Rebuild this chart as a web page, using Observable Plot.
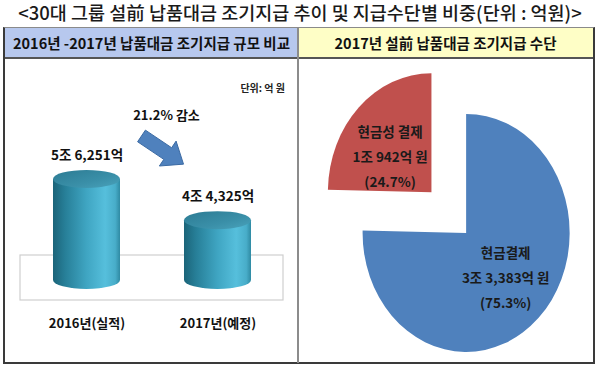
<!DOCTYPE html>
<html><head><meta charset="utf-8">
<script src="https://cdn.jsdelivr.net/npm/d3@7"></script>
<script src="https://cdn.jsdelivr.net/npm/@observablehq/plot@0.6"></script>
<style>
body{margin:0;background:#fff;font-family:"Noto Sans CJK KR","Noto Sans",sans-serif;color:#111}
#page{position:relative;width:600px;height:366px;overflow:hidden;background:#fff}
.abs{position:absolute}
#title{left:0;top:0;width:600px;text-align:center;font-size:18.5px;line-height:24px;font-weight:500;color:#1a1a1a;white-space:nowrap}
#box{left:3px;top:27px;width:592px;height:337px;box-sizing:border-box;border:2px solid #3a3a3a;border-top:1px solid #8a8a8a}
.hdr{top:28px;height:31px;line-height:30px;text-align:center;font-weight:bold;font-size:14.5px;box-sizing:border-box;border-bottom:2px solid #555;white-space:nowrap}
#h1{left:5px;width:293px;background:#B7C8EE}
#h2{left:298px;width:295px;background:#FEFEC6}
#div{left:297px;top:28px;width:2px;height:335px;background:#8c8c8c}
#unit{left:215px;top:80px;width:70px;text-align:right;font-size:10px;font-weight:bold;color:#222}
#left{left:3px;top:59px}
#right{left:298px;top:59px}
</style></head>
<body>
<div id="page">
  <div id="title" class="abs"></div>
  <div id="box" class="abs"></div>
  <div id="h1" class="abs hdr"></div>
  <div id="h2" class="abs hdr"></div>
  <div id="div" class="abs"></div>
  <div id="unit" class="abs"></div>
  <div id="left" class="abs"></div>
  <div id="right" class="abs"></div>
</div>
<script>
// ---- data ----
const titleText = "<30대 그룹 설前 납품대금 조기지급 추이 및 지급수단별 비중(단위 : 억원)>";
const leftHeader = "2016년 -2017년 납품대금 조기지급 규모 비교";
const rightHeader = "2017년 설前 납품대금 조기지급 수단";
const unitText = "단위: 억 원";
const years = ["2016년(실적)", "2017년(예정)"];
const amounts = [56251, 44325];           // 억 원
const changeLabel = "감소";
const payMethods = ["현금결제", "현금성 결제"];
const payAmounts = [33383, 10942];        // 억 원
const payColors = ["#4F81BD", "#C0504D"];

document.getElementById("title").textContent = titleText;
document.getElementById("h1").textContent = leftHeader;
document.getElementById("h2").textContent = rightHeader;
document.getElementById("unit").textContent = unitText;

const fmtC = d3.format(",");
const jo = v => `${Math.floor(v / 10000)}조 ${fmtC(v % 10000)}억`;
const FONT = '"Noto Sans CJK KR", "Noto Sans", sans-serif';

// ---- left: cylinders ----
const rows = years.map((year, i) => ({year, amount: amounts[i]}));
const yBase = 27000;
const cylinders = (index, {x, y}) => {
  const g = d3.create("svg:g");
  const defs = g.append("defs");
  const body = defs.append("linearGradient").attr("id", "cylBody").attr("x1", 0).attr("x2", 1).attr("y1", 0).attr("y2", 0);
  [[0, "#1b6479"], [0.18, "#277f98"], [0.5, "#3fa5c2"], [0.78, "#56bfdc"], [0.93, "#48adc9"], [1, "#2f8aa3"]]
    .forEach(([o, c]) => body.append("stop").attr("offset", o).attr("stop-color", c));
  const topG = defs.append("linearGradient").attr("id", "cylTop").attr("x1", 0).attr("x2", 1).attr("y1", 0).attr("y2", 1);
  [[0, "#2c7b93"], [0.6, "#3a8fa8"], [1, "#4aa3bc"]]
    .forEach(([o, c]) => topG.append("stop").attr("offset", o).attr("stop-color", c));
  const bw = typeof x.bandwidth === "function" ? x.bandwidth() : x.bandwidth;
  const rx = bw / 2, ry = 9;
  const y0 = y(yBase);
  const [r0, r1] = x.range();
  g.append("rect").attr("x", r0).attr("y", y0 - 25).attr("width", r1 - r0).attr("height", 45)
    .attr("fill", "#fff").attr("stroke", "#cfcfcf").attr("stroke-width", 1.2);
  for (const r of rows) {
    const cx = x(r.year) + rx, yt = y(r.amount);
    g.append("path")
      .attr("d", `M${cx - rx},${yt}L${cx - rx},${y0}A${rx},${ry} 0 0 0 ${cx + rx},${y0}L${cx + rx},${yt}Z`)
      .attr("fill", "url(#cylBody) #3fa5c2");
    g.append("ellipse").attr("cx", cx).attr("cy", yt).attr("rx", rx).attr("ry", ry).attr("fill", "url(#cylTop) #3890aa");
  }
  // arrow between the two cylinders
  const c0 = x(rows[0].year) + rx, c1 = x(rows[1].year) + rx;
  const A = [c0 + 55, y(rows[0].amount) - 43], B = [c1 - 34, y(rows[1].amount) - 56];
  const L = Math.hypot(B[0] - A[0], B[1] - A[1]);
  const u = [(B[0] - A[0]) / L, (B[1] - A[1]) / L], n = [-u[1], u[0]];
  const H = [B[0] - u[0] * 19, B[1] - u[1] * 19];
  const p = (P, k) => [P[0] + n[0] * k, P[1] + n[1] * k];
  const pts = [p(A, 7), p(H, 7), p(H, 15), B, p(H, -15), p(H, -7), p(A, -7)];
  g.append("polygon").attr("points", pts.map(q => q.join(",")).join(" "))
    .attr("fill", "#4F81BD").attr("stroke", "#3b6aa3").attr("stroke-width", 1);
  const pct = ((rows[0].amount - rows[1].amount) / rows[0].amount * 100).toFixed(1);
  g.append("text").attr("x", A[0] + 25).attr("y", A[1] - 19).attr("text-anchor", "middle")
    .attr("dominant-baseline", "middle").attr("font-weight", "bold").attr("font-size", 13)
    .attr("fill", "#111").text(`${pct}% ${changeLabel}`);
  return g.node();
};

const leftPlot = Plot.plot({
  width: 295, height: 304, margin: 0,
  style: {fontFamily: FONT, background: "transparent", overflow: "visible"},
  x: {type: "band", domain: years, range: [17, 280], paddingInner: 0.49, paddingOuter: 0.245, axis: null},
  y: {domain: [yBase, 60000], range: [221, 107], axis: null},
  marks: [
    cylinders,
    Plot.text(rows, {x: "year", y: "amount", text: d => jo(d.amount), dy: -24,
      fontWeight: "bold", fontSize: 13.5, fill: "#111"}),
    Plot.text(rows, {x: "year", y: () => yBase, text: "year", dy: 43,
      fontWeight: "bold", fontSize: 13, fill: "#111"})
  ]
});
document.getElementById("left").appendChild(leftPlot);

// ---- right: exploded pie ----
const slices = payMethods.map((name, i) => ({name, value: payAmounts[i], color: payColors[i]}));
const total = d3.sum(payAmounts);
const pieMark = (index, scales, values, dims) => {
  const g = d3.create("svg:g");
  const cx = dims.width * 0.568, cy = dims.height * 0.572, r = 119, sx = 0.87, explode = 57;
  const arcs = d3.pie().sort(null).value(d => d.value)(slices);
  const arc = d3.arc().innerRadius(0).outerRadius(r);
  arcs.forEach((a, i) => {
    const mid = (a.startAngle + a.endAngle) / 2;
    const dir = [Math.sin(mid), -Math.cos(mid)];
    const off = i === 1 ? explode : 0;
    const ax = cx + dir[0] * off * sx, ay = cy + dir[1] * off;
    g.append("path").attr("d", arc(a)).attr("fill", a.data.color)
      .attr("transform", `translate(${ax},${ay}) scale(${sx},1)`);
    const lr = i === 0 ? 65 : 58;
    const lx = ax + dir[0] * lr * sx - (i === 1 ? 6 : 0), ly = ay + dir[1] * lr + (i === 1 ? 8 : 0);
    const lines = [a.data.name, `${jo(a.data.value)} 원`, `(${(a.data.value / total * 100).toFixed(1)}%)`];
    lines.forEach((t, k) => {
      g.append("text").attr("x", lx).attr("y", ly + (k - 1) * 25).attr("text-anchor", "middle")
        .attr("dominant-baseline", "middle").attr("font-weight", "bold").attr("font-size", 13.5)
        .attr("fill", "#1a1a1a").text(t);
    });
  });
  return g.node();
};
const rightPlot = Plot.plot({
  width: 296, height: 304, margin: 0,
  style: {fontFamily: FONT, background: "transparent", overflow: "visible"},
  marks: [pieMark]
});
document.getElementById("right").appendChild(rightPlot);
</script>
</body></html>
